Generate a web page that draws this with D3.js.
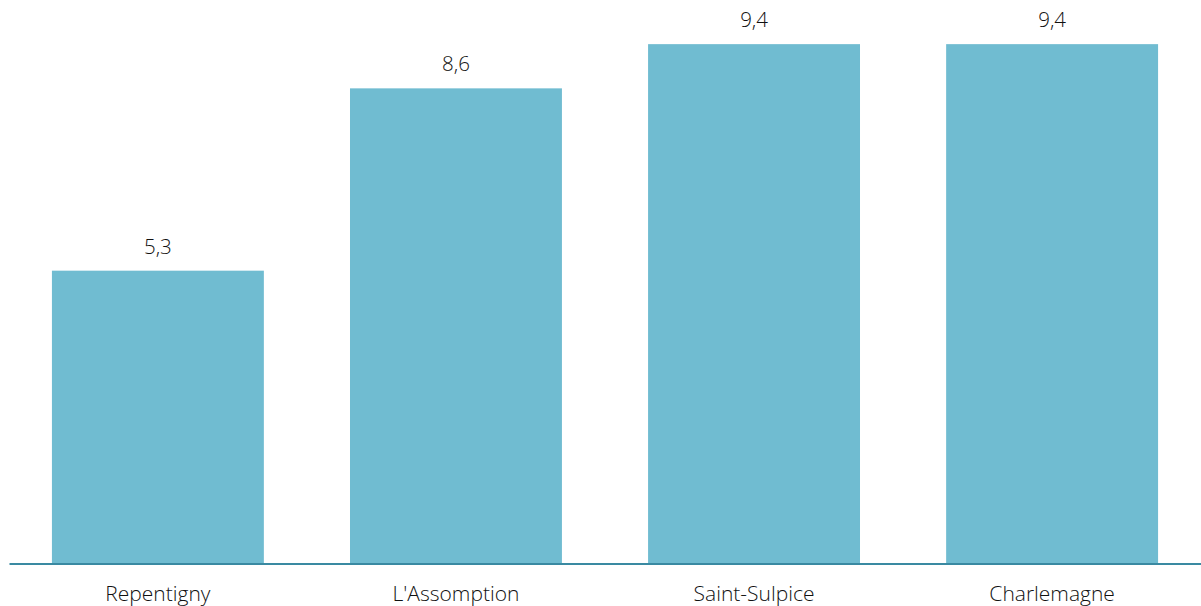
<!DOCTYPE html>
<html><head><meta charset="utf-8">
<script src="https://cdn.jsdelivr.net/npm/d3@7"></script>
<style>body{margin:0;background:#fff}svg{display:block}text{font-family:"Open Sans",sans-serif;font-weight:300;fill:#111}</style>
</head><body><svg id="c" width="1201" height="606"></svg>
<script>
const categories = ["Repentigny", "L'Assomption", "Saint-Sulpice", "Charlemagne"];
const values = [5.3, 8.6, 9.4, 9.4];
const valueLabels = ["5,3", "8,6", "9,4", "9,4"];

const svg = d3.select("#c");
const x = d3.scaleBand().domain(categories).range([9, 1201]).paddingInner(0.289).paddingOuter(0.144);
const y = d3.scaleLinear().domain([0, 10]).range([563.5, 11]);

svg.selectAll("rect.bar").data(categories).join("rect").attr("class","bar")
  .attr("x", d => x(d)).attr("width", x.bandwidth())
  .attr("y", (d,i) => y(values[i])).attr("height", (d,i) => y(0) - y(values[i]))
  .attr("fill", "#70bcd1");

svg.selectAll("text.val").data(categories).join("text").attr("class","val")
  .attr("x", d => x(d) + x.bandwidth()/2).attr("y", (d,i) => y(values[i]) - 17)
  .attr("text-anchor","middle").attr("font-size", 20.5).text((d,i) => valueLabels[i]);

const ax = svg.append("g").attr("transform", `translate(0,${y(0)})`)
  .call(d3.axisBottom(x).tickSize(0).tickPadding(23));
ax.select(".domain").attr("stroke", "#3a8aa2").attr("stroke-width", 2);
ax.selectAll("text").attr("font-size", 21).attr("fill","#111").style("font-family","'Open Sans',sans-serif").style("font-weight",300);
</script></body></html>
